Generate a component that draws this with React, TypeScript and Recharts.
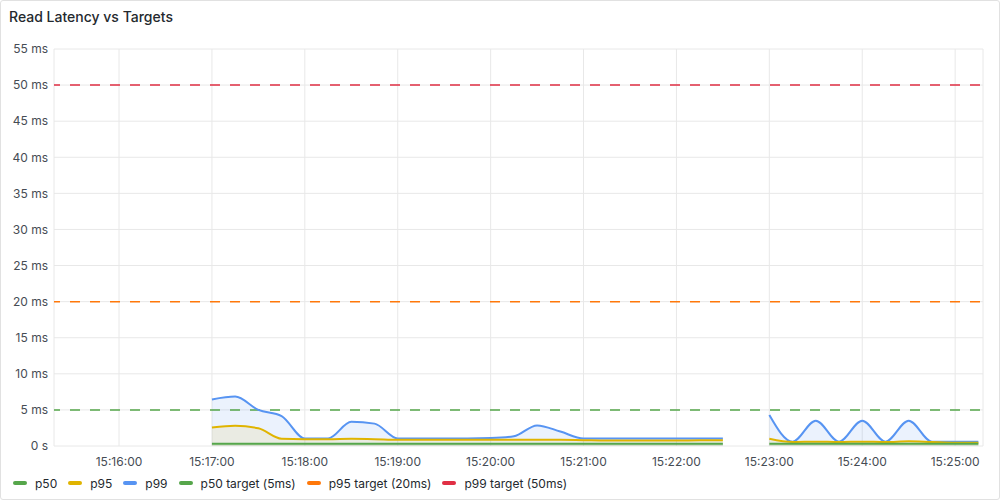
import React from 'react';
import {
  ComposedChart,
  Area,
  Line,
  XAxis,
  YAxis,
  CartesianGrid,
  ReferenceLine,
} from 'recharts';

// Sample times (15 s step); the empty slot at 15:22:45 makes the gap
const times = [
  '15:17:00', '15:17:15', '15:17:30', '15:17:45',
  '15:18:00', '15:18:15', '15:18:30', '15:18:45',
  '15:19:00', '15:19:15', '15:19:30', '15:19:45',
  '15:20:00', '15:20:15', '15:20:30', '15:20:45',
  '15:21:00', '15:21:15', '15:21:30', '15:21:45',
  '15:22:00', '15:22:15', '15:22:30', '15:22:45',
  '15:23:00', '15:23:15', '15:23:30', '15:23:45',
  '15:24:00', '15:24:15', '15:24:30', '15:24:45',
  '15:25:00', '15:25:15',
];

const p50 = [
  0.3, 0.3, 0.3, 0.3, 0.3, 0.3, 0.3, 0.3, 0.3, 0.3, 0.3, 0.3,
  0.3, 0.3, 0.3, 0.3, 0.3, 0.3, 0.3, 0.3, 0.3, 0.3, 0.3, null,
  0.3, 0.3, 0.3, 0.3, 0.3, 0.3, 0.3, 0.3, 0.3, 0.3,
];

const p95 = [
  2.55, 2.8, 2.45, 1.0, 0.95, 0.95, 1.0, 0.95, 0.85, 0.85, 0.85, 0.85,
  0.85, 0.85, 0.85, 0.85, 0.8, 0.75, 0.75, 0.75, 0.75, 0.8, 0.8, null,
  1.0, 0.55, 0.6, 0.55, 0.6, 0.55, 0.65, 0.55, 0.45, 0.45,
];

const p99 = [
  6.45, 6.85, 5.0, 4.15, 1.05, 1.05, 3.35, 3.1, 1.05, 1.05, 1.05, 1.05,
  1.1, 1.35, 2.85, 2.0, 1.05, 1.05, 1.05, 1.05, 1.05, 1.05, 1.05, null,
  4.3, 0.6, 3.5, 0.6, 3.5, 0.6, 3.5, 0.6, 0.6, 0.6,
];

// Target thresholds (ms)
const targets = [
  { name: 'p50 target (5ms)', value: 5, color: '#56a64b' },
  { name: 'p95 target (20ms)', value: 20, color: '#ff780a' },
  { name: 'p99 target (50ms)', value: 50, color: '#e02f44' },
];

const xTickLabels = [
  '15:16:00', '15:17:00', '15:18:00', '15:19:00', '15:20:00',
  '15:21:00', '15:22:00', '15:23:00', '15:24:00', '15:25:00',
];
const yTicks = [0, 5, 10, 15, 20, 25, 30, 35, 40, 45, 50, 55];
const xRange = ['15:15:18', '15:25:18'];

const colors = {
  p50: '#56a64b',
  p95: '#e0b400',
  p99: '#5794f2',
};

const toSec = (s: string) => {
  const [h, m, sec] = s.split(':').map(Number);
  return h * 3600 + m * 60 + sec;
};
const pad = (n: number) => String(n).padStart(2, '0');
const fmtTime = (v: number) =>
  `${pad(Math.floor(v / 3600))}:${pad(Math.floor((v % 3600) / 60))}:${pad(v % 60)}`;

const chartData = times.map((t, i) => ({
  t: toSec(t),
  p50: p50[i],
  p95: p95[i],
  p99: p99[i],
}));

const legendItems = [
  { name: 'p50', color: colors.p50 },
  { name: 'p95', color: colors.p95 },
  { name: 'p99', color: colors.p99 },
  ...targets.map((t) => ({ name: t.name, color: t.color })),
];

const font = 'Inter, "Noto Sans", sans-serif';
const tickStyle = { fill: '#464c54', fontSize: 12, fontFamily: font };

export default function App() {
  return (
    <div
      style={{
        position: 'absolute',
        left: 0,
        top: 0,
        width: 1000,
        height: 500,
        boxSizing: 'border-box',
        border: '1px solid #e1e1e1',
        borderRadius: 3,
        background: '#fff',
        fontFamily: font,
        overflow: 'hidden',
      }}
    >
      <div
        style={{
          position: 'absolute',
          left: 8,
          top: 7,
          fontSize: 14,
          fontWeight: 500,
          color: '#24292e',
        }}
      >
        Read Latency vs Targets
      </div>
      <div style={{ position: 'absolute', left: -1, top: -1 }}>
        <ComposedChart
          width={1000}
          height={470}
          data={chartData}
          margin={{ top: 49, right: 17, bottom: 0, left: 0 }}
        >
          <CartesianGrid stroke="#e8e8e8" />
          <XAxis
            dataKey="t"
            type="number"
            domain={xRange.map(toSec)}
            ticks={xTickLabels.map(toSec)}
            tickFormatter={fmtTime}
            axisLine={false}
            tickLine={false}
            tickSize={0}
            tickMargin={11}
            height={24}
            tick={tickStyle}
            allowDataOverflow
          />
          <YAxis
            domain={[0, 55]}
            ticks={yTicks}
            tickFormatter={(v: number) => (v === 0 ? '0 s' : `${v} ms`)}
            axisLine={false}
            tickLine={false}
            tickSize={0}
            tickMargin={6}
            width={54}
            tick={tickStyle}
          />
          {targets.map((t) => (
            <ReferenceLine
              key={t.name}
              y={t.value}
              stroke={t.color}
              strokeWidth={1.5}
              strokeDasharray="10 10"
              strokeDashoffset={4}
            />
          ))}
          <Area
            dataKey="p99"
            type="monotone"
            stroke="none"
            fill={colors.p99}
            fillOpacity={0.12}
            isAnimationActive={false}
          />
          <Area
            dataKey="p95"
            type="monotone"
            stroke="none"
            fill={colors.p95}
            fillOpacity={0.1}
            isAnimationActive={false}
          />
          <Area
            dataKey="p50"
            type="monotone"
            stroke="none"
            fill={colors.p50}
            fillOpacity={0.1}
            isAnimationActive={false}
          />
          <Line
            dataKey="p99"
            type="monotone"
            stroke={colors.p99}
            strokeWidth={2}
            dot={false}
            isAnimationActive={false}
          />
          <Line
            dataKey="p95"
            type="monotone"
            stroke={colors.p95}
            strokeWidth={2}
            dot={false}
            isAnimationActive={false}
          />
          <Line
            dataKey="p50"
            type="monotone"
            stroke={colors.p50}
            strokeWidth={2}
            dot={false}
            isAnimationActive={false}
          />
        </ComposedChart>
      </div>
      <div
        style={{
          position: 'absolute',
          left: 12,
          top: 473,
          height: 18,
          display: 'flex',
          alignItems: 'center',
          fontSize: 12,
          color: '#24292e',
        }}
      >
        {legendItems.map((item) => (
          <div
            key={item.name}
            style={{ display: 'flex', alignItems: 'center', marginRight: 11 }}
          >
            <span
              style={{
                display: 'inline-block',
                width: 14,
                height: 4,
                borderRadius: 2,
                background: item.color,
                marginRight: 8,
              }}
            />
            <span>{item.name}</span>
          </div>
        ))}
      </div>
    </div>
  );
}
